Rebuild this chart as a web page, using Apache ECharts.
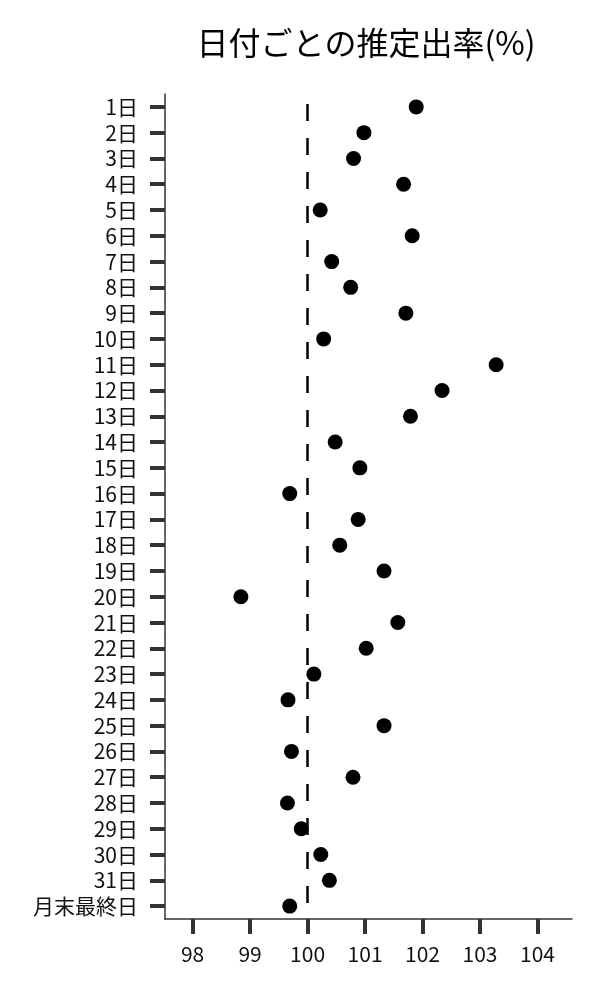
<!DOCTYPE html>
<html>
<head>
<meta charset="utf-8">
<script src="https://cdn.jsdelivr.net/npm/echarts@6/dist/echarts.min.js"></script>
<style>
  html, body { margin: 0; padding: 0; background: #fff; }
  #main { width: 600px; height: 1000px; }
</style>
</head>
<body>
<div id="main"></div>
<script>
// 日付ラベル（上から順）
var days = ['1日', '2日', '3日', '4日', '5日', '6日', '7日', '8日', '9日', '10日',
    '11日', '12日', '13日', '14日', '15日', '16日', '17日', '18日', '19日', '20日',
    '21日', '22日', '23日', '24日', '25日', '26日', '27日', '28日', '29日', '30日',
    '31日', '月末最終日'];
// 推定出率(%)
var rates = [101.89, 100.98, 100.80, 101.67, 100.22, 101.82, 100.42, 100.75, 101.71, 100.28,
    103.28, 102.34, 101.79, 100.48, 100.91, 99.69, 100.88, 100.56, 101.33, 98.84,
    101.57, 101.02, 100.11, 99.66, 101.33, 99.72, 100.79, 99.65, 99.89, 100.23,
    100.38, 99.69];
var xTicks = [98, 99, 100, 101, 102, 103, 104];
var refValue = 100;

var font = '"Noto Sans CJK JP", "Noto Sans", sans-serif';
var myChart = echarts.init(document.getElementById('main'));
var option = {
    backgroundColor: '#fff',
    animation: false,
    graphic: [{
        type: 'text',
        x: 366,
        y: 43,
        style: {
            text: '日付ごとの推定出率(%)',
            fontSize: 32,
            fontFamily: font,
            fill: '#000',
            align: 'center',
            verticalAlign: 'middle'
        }
    }],
    grid: {
        left: 165,
        right: 28,
        top: 94,
        bottom: 81
    },
    xAxis: {
        type: 'value',
        min: 97.52,
        max: 104.6,
        splitLine: { show: false },
        axisLine: { show: true, lineStyle: { color: '#333', width: 1.5 } },
        axisTick: {
            show: true,
            length: 15,
            customValues: xTicks,
            lineStyle: { color: '#333', width: 4 }
        },
        axisLabel: {
            customValues: xTicks,
            fontSize: 21,
            fontFamily: font,
            color: '#111',
            margin: 25
        }
    },
    yAxis: {
        type: 'category',
        data: days,
        inverse: true,
        splitLine: { show: false },
        axisLine: { show: true, lineStyle: { color: '#333', width: 1.5 } },
        axisTick: {
            show: true,
            alignWithLabel: true,
            length: 15,
            lineStyle: { color: '#333', width: 4 }
        },
        axisLabel: {
            interval: 0,
            fontSize: 21,
            fontFamily: font,
            color: '#111',
            margin: 27
        }
    },
    series: [{
        type: 'scatter',
        data: rates,
        symbolSize: 15,
        itemStyle: { color: '#000', opacity: 1 },
        markLine: {
            silent: true,
            symbol: 'none',
            label: { show: false },
            lineStyle: { color: '#000', width: 2.5, type: [17, 17], dashOffset: 24, opacity: 1 },
            data: [{ xAxis: refValue }]
        }
    }]
};
myChart.setOption(option);
</script>
</body>
</html>
